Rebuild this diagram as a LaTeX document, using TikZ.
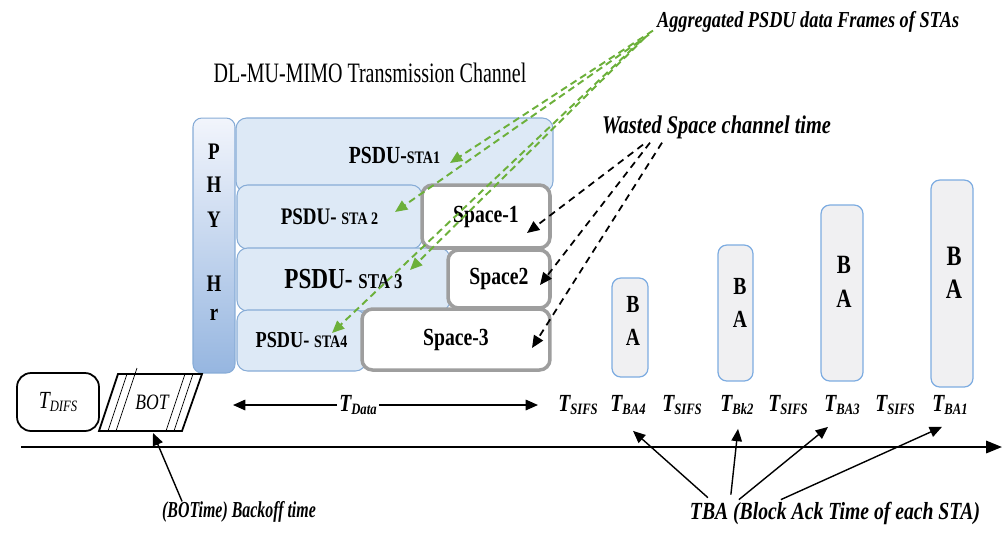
\documentclass[tikz,border=0pt]{standalone}
\usepackage{fontspec}
\setmainfont{Liberation Serif}[FakeStretch=0.8]
\usetikzlibrary{arrows.meta,calc}

\definecolor{psdufill}{RGB}{221,233,246}
\definecolor{psdudraw}{RGB}{135,172,215}
\definecolor{phytop}{RGB}{242,245,252}
\definecolor{phybot}{RGB}{150,182,224}
\definecolor{spacegray}{RGB}{158,158,158}
\definecolor{bafill}{RGB}{240,240,242}
\definecolor{badraw}{RGB}{125,172,225}
\definecolor{aggrgreen}{RGB}{108,176,58}

\newcommand{\fsz}[1]{\fontsize{#1}{#1}\selectfont}
\newcommand{\subtxt}[1]{\raisebox{-0.3ex}{\fontsize{9}{9}\selectfont #1}}
\newcommand{\sta}[2]{{\fontsize{#1}{#1}\selectfont #2}}

\tikzset{
  psdubox/.style={draw=psdudraw, fill=psdufill, rounded corners=6pt, line width=0.6pt, font=\bfseries},
  spacebox/.style={draw=spacegray, fill=white, rounded corners=6pt, line width=2pt, font=\fsz{14}\bfseries},
  babox/.style={draw=badraw, fill=bafill, rounded corners=5pt, line width=0.7pt},
  baletters/.style={align=center, font=\fontsize{#1}{19}\selectfont\bfseries},
  tlabel/.style={inner sep=1pt, font=\fsz{14}\bfseries\itshape},
  callout/.style={inner sep=1pt, font=\fsz{#1}\bfseries\itshape},
  pointer/.style={line width=0.8pt, -{Triangle[length=7pt,width=6pt]}},
  wastearrow/.style={line width=1pt, dash pattern=on 4pt off 3pt, -{Triangle[length=7pt,width=6pt]}},
  aggrarrow/.style={draw=aggrgreen, line width=1.1pt, dash pattern=on 4pt off 2.5pt, -{Triangle[length=7pt,width=6pt]}}
}

\begin{document}
\begin{tikzpicture}[x=0.02cm, y=-0.02cm]
  \useasboundingbox (0,0) rectangle (1003,532);

  % headings
  \node[font=\fsz{16}] (title) at (370,73) {\scalebox{0.89}[1]{DL-MU-MIMO Transmission Channel}};
  \node[callout=13, anchor=west] (aggr) at (655,22) {Aggregated PSDU data Frames of STAs};
  \node[callout=14.5, anchor=west] (wasted) at (600,127) {Wasted Space channel time};

  % channel frames
  \node[psdubox, minimum width=6.34cm, minimum height=1.48cm, font=\fsz{14}\bfseries] (sta1) at (394.5,155) {PSDU-\sta{10}{STA1}};
  \node[psdubox, minimum width=3.7cm, minimum height=1.28cm, font=\fsz{13.5}\bfseries] (sta2) at (329.5,217) {PSDU- \sta{10}{STA 2}};
  \node[psdubox, minimum width=4.26cm, minimum height=1.26cm, font=\fsz{16.5}\bfseries] (sta3) at (343.5,279.5) {PSDU- \sta{12}{STA 3}};
  \node[psdubox, minimum width=2.58cm, minimum height=1.22cm, font=\fsz{13}\bfseries] (sta4) at (301.5,340.5) {PSDU- \sta{10}{STA4}};
  \node[spacebox, minimum width=2.56cm, minimum height=1.26cm] (space1) at (486,216.5) {Space-1};
  \node[spacebox, minimum width=2.04cm, minimum height=1.16cm] (space2) at (499,279) {Space2};
  \node[spacebox, minimum width=3.76cm, minimum height=1.22cm] (space3) at (456,339.5) {Space-3};

  \node[draw=psdudraw, top color=phytop, bottom color=phybot, rounded corners=5pt, line width=0.6pt,
        minimum width=0.84cm, minimum height=5.1cm] (phy) at (214,245.5) {};
  \foreach \ch/\y [count=\i] in {P/152,H/185,Y/220,H/284,r/315}
    \node[font=\fsz{13.5}\bfseries] (phy\i) at (214,\y) {\ch};

  % block acks
  \node[babox, minimum width=0.72cm, minimum height=1.98cm] (ba4) at (630,327.5) {};
  \node[babox, minimum width=0.7cm, minimum height=2.72cm] (bk2) at (735.5,313) {};
  \node[babox, minimum width=0.84cm, minimum height=3.52cm] (ba3) at (842,293) {};
  \node[babox, minimum width=0.84cm, minimum height=4.14cm] (ba1) at (952,283.5) {};
  \node[baletters=14] (ba4txt) at (633,321) {B\\A};
  \node[baletters=14] (bk2txt) at (740,303) {B\\A};
  \node[baletters=15] (ba3txt) at (844,282) {B\\A};
  \node[baletters=16] (ba1txt) at (954,273) {B\\A};

  % time labels
  \node[tlabel] (tdata) at (358,405) {T\subtxt{Data}};
  \node[tlabel] (tsifs1) at (578,405) {T\subtxt{SIFS}};
  \node[tlabel] (tba4) at (628,405) {T\subtxt{BA4}};
  \node[tlabel] (tsifs2) at (682,405) {T\subtxt{SIFS}};
  \node[tlabel] (tbk2) at (737,405) {T\subtxt{Bk2}};
  \node[tlabel] (tsifs3) at (788,405) {T\subtxt{SIFS}};
  \node[tlabel] (tba3) at (842,405) {T\subtxt{BA3}};
  \node[tlabel] (tsifs4) at (895,405) {T\subtxt{SIFS}};
  \node[tlabel] (tba1) at (950,405) {T\subtxt{BA1}};

  \coordinate (dleft) at (233,405);
  \coordinate (dright) at (538,405);
  \draw[pointer] (tdata) -- (dleft);
  \draw[pointer] (tdata) -- (dright);

  % difs and backoff
  \node[draw, rounded corners=8pt, line width=1pt, minimum width=1.64cm, minimum height=1.16cm,
        font=\fsz{14}\itshape] (tdifs) at (58,402) {T\subtxt{DIFS}};
  \draw[line width=1pt] (99,431) -- (118,374) -- (202,374) -- (182,431) -- cycle;
  \draw[thin] (108,431) -- ++(19,-57);
  \draw[thin] (116,431) -- ++(21,-63);
  \draw[thin] (166,431) -- ++(19,-57);
  \draw[thin] (174,431) -- ++(19,-57);
  \node[font=\fsz{12.5}\itshape] (bot) at (152,402) {BOT};

  % time axis
  \coordinate (axis0) at (21,447);
  \coordinate (axis1) at (1002,447);
  \draw[line width=1.2pt, -{Triangle[length=9pt,width=7pt]}] (axis0) -- (axis1);

  % bottom callouts
  \node[callout=13] (botlbl) at (239,512) {\scalebox{0.87}[1]{(BOTime) Backoff time}};
  \node[callout=14] (tbalbl) at (835,513) {TBA (Block Ack Time of each STA)};
  \coordinate (botedge) at (153,433);
  \draw[pointer] ($(botlbl.north west)+(22,2)$) -- (botedge);
  \draw[pointer] ($(tbalbl.north west)+(20,-2)$) -- ($(tba4.south)+(5,14)$);
  \draw[pointer] ($(tbalbl.north west)+(43,-5)$) -- ($(tbk2.south)+(1,12)$);
  \draw[pointer] ($(tbalbl.north west)+(51,0)$) -- ($(tba3.south)+(-14,10)$);
  \draw[pointer] ($(tbalbl.north west)+(93,0)$) -- ($(tba1.south)+(-8,10)$);

  % wasted space
  \coordinate (gap1) at (527,233);
  \coordinate (gap2) at (540,285);
  \coordinate (gap3) at (532,348);
  \draw[wastearrow] ($(wasted.south west)+(43,4)$) -- (gap1);
  \draw[wastearrow] ($(wasted.south west)+(50,2)$) -- (gap2);
  \draw[wastearrow] ($(wasted.south west)+(62,2)$) -- (gap3);

  % aggregated frames
  \coordinate (agg1) at (450,163);
  \coordinate (agg2) at (395,212);
  \coordinate (agg3) at (410,270);
  \coordinate (agg4) at (332,333);
  \draw[aggrarrow] ($(aggr.south west)+(-2,-4)$) -- (agg1);
  \draw[aggrarrow] ($(aggr.south west)+(-6,0)$) -- (agg2);
  \draw[aggrarrow] ($(aggr.south west)+(-10,3)$) -- (agg3);
  \draw[aggrarrow] ($(aggr.south west)+(-14,6)$) -- (agg4);
\end{tikzpicture}
\end{document}
